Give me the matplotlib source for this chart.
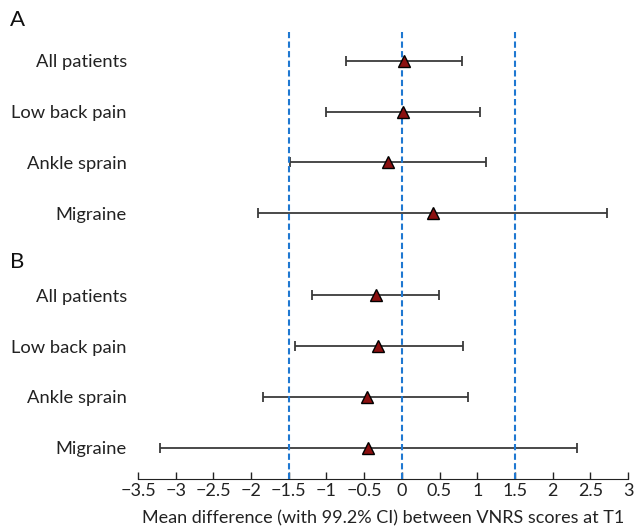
import matplotlib.pyplot as plt
import numpy as np

plt.rcParams['font.family'] = ['Lato', 'DejaVu Sans']

categories = ["All patients", "Low back pain", "Ankle sprain", "Migraine"]

# panel A
a_mean = [0.03, 0.02, -0.19, 0.41]
a_low = [-0.74, -1.01, -1.49, -1.91]
a_high = [0.80, 1.04, 1.12, 2.72]

# panel B
b_mean = [-0.34, -0.31, -0.46, -0.45]
b_low = [-1.19, -1.42, -1.84, -3.21]
b_high = [0.49, 0.81, 0.88, 2.33]

margins = [-1.5, 0, 1.5]

fig = plt.figure(figsize=(6.34, 5.30), dpi=100)
ax = fig.add_axes([0.2177, 0.0962, 0.7728, 0.8434])

ya = np.arange(4)
yb = np.arange(4) + 4.62

for y, m, lo, hi in [(ya, a_mean, a_low, a_high), (yb, b_mean, b_low, b_high)]:
    m = np.array(m)
    err = [m - np.array(lo), np.array(hi) - m]
    ax.errorbar(m, y, xerr=err, fmt='none', ecolor='#3a3a3a', elinewidth=1.3,
                capsize=3.5, capthick=1.3, zorder=2)
    ax.plot(m, y, linestyle='none', marker='^', markersize=9,
            markerfacecolor='#8b1010', markeredgecolor='black', markeredgewidth=1,
            zorder=4)

for v in margins:
    ax.axvline(v, color='#1f78d1', linestyle=(0, (3, 1.6)), linewidth=1.5, zorder=3)

ax.set_xlim(-3.5, 3)
ax.set_ylim(8.24, -0.57)
ticks = np.arange(-3.5, 3.01, 0.5)
ax.set_xticks(ticks)
ax.set_xticklabels([('%g' % t).replace('-', '\u2212') for t in ticks])
ax.set_yticks(list(ya) + list(yb))
ax.set_yticklabels(categories + categories)
ax.tick_params(axis='y', length=0, pad=8, labelsize=13.2, colors='#222222')
ax.tick_params(axis='x', direction='in', length=5, width=1, labelsize=13,
               colors='#222222', pad=3)
for s in ['left', 'right', 'top']:
    ax.spines[s].set_visible(False)
ax.spines['bottom'].set_color('#222222')
ax.set_xlabel("Mean difference (with 99.2% CI) between VNRS scores at T1",
              fontsize=13, color='#222222', labelpad=8)

fig.text(0.016, 0.962, "A", fontsize=16, color='#111111', va='center')
fig.text(0.016, 0.506, "B", fontsize=16, color='#111111', va='center')

fig.savefig('out.png', dpi=100)
